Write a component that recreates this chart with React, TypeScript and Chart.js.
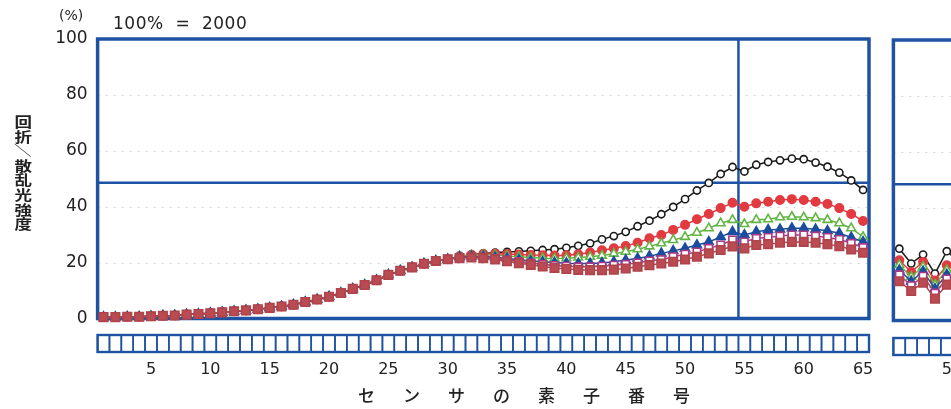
import { useEffect, useRef } from 'react';
import { Chart, registerables } from 'chart.js';

Chart.register(...registerables);

// ---------- data ----------
const ELEMENT_COUNT = 65;
const X_TICKS = [5, 10, 15, 20, 25, 30, 35, 40, 45, 50, 55, 60, 65];
const Y_TICKS = [0, 20, 40, 60, 80, 100];
const REF_LEVEL = 48.6; // horizontal reference line (%)
const REF_ELEMENT = 54.5; // vertical reference line (element boundary)

// elements 1..30 (all series overlap)
const RISE = [0.5, 0.5, 0.6, 0.6, 0.8, 1.0, 1.1, 1.4, 1.6, 1.9, 2.2, 2.6, 2.9, 3.3, 3.8, 4.3, 4.9, 5.9, 6.8, 7.8, 9.1, 10.6, 12.0, 13.7, 15.6, 17.1, 18.3, 19.6, 20.6, 21.2];

// elements 31..65
const BLACK_TAIL = [22.0, 22.8, 23.3, 23.6, 23.8, 24.0, 24.2, 24.5, 24.8, 25.3, 26.0, 26.9, 28.3, 29.5, 31.0, 33.0, 35.0, 37.3, 39.9, 42.7, 45.8, 48.5, 51.7, 54.2, 52.6, 55.0, 56.0, 56.6, 57.2, 57.0, 55.8, 54.3, 52.2, 49.4, 46.0];
const RED_TAIL = [22.3, 22.8, 23.1, 23.2, 23.1, 22.9, 22.7, 22.6, 22.5, 22.6, 23.0, 23.6, 24.4, 25.1, 25.9, 27.1, 28.7, 29.9, 31.7, 33.5, 35.5, 37.4, 39.5, 41.4, 40.0, 41.2, 41.8, 42.4, 42.7, 42.4, 41.8, 41.0, 39.5, 37.4, 34.9];
const GREEN_TAIL = [22.2, 22.6, 22.8, 22.7, 22.4, 22.1, 21.8, 21.6, 21.5, 21.6, 21.8, 22.1, 22.5, 23.2, 23.9, 24.8, 25.8, 26.9, 28.1, 29.2, 30.7, 32.3, 34.1, 35.3, 33.8, 35.3, 35.5, 36.2, 36.4, 36.2, 35.9, 35.3, 34.1, 32.3, 29.2];
const BLUE_TAIL = [22.0, 22.2, 22.2, 21.9, 21.5, 21.0, 20.6, 20.3, 20.0, 19.8, 19.7, 19.7, 19.9, 20.3, 20.9, 21.5, 22.3, 23.3, 24.2, 25.1, 26.3, 27.4, 29.2, 31.0, 29.9, 31.0, 31.7, 31.9, 32.3, 32.3, 31.9, 31.4, 30.5, 29.0, 27.4];
const PURPLE_TAIL = [21.8, 22.0, 21.9, 21.5, 21.0, 20.4, 19.9, 19.4, 19.0, 18.7, 18.5, 18.5, 18.7, 19.1, 19.4, 19.9, 20.6, 21.1, 22.1, 23.0, 23.8, 25.1, 26.3, 28.1, 27.4, 28.7, 29.0, 29.5, 29.9, 29.9, 29.5, 29.0, 28.3, 26.9, 25.4];
const BROWN_TAIL = [21.6, 21.8, 21.6, 21.1, 20.5, 19.8, 19.2, 18.6, 18.1, 17.7, 17.4, 17.3, 17.3, 17.5, 17.9, 18.5, 19.1, 19.7, 20.3, 21.1, 22.1, 23.3, 24.5, 25.8, 25.1, 26.3, 26.6, 27.1, 27.4, 27.4, 27.1, 26.6, 25.9, 24.7, 23.5];

const BLACK = [...RISE, ...BLACK_TAIL];
const RED = [...RISE, ...RED_TAIL];
const GREEN = [...RISE, ...GREEN_TAIL];
const BLUE = [...RISE, ...BLUE_TAIL];
const PURPLE = [...RISE, ...PURPLE_TAIL];
const BROWN = [...RISE, ...BROWN_TAIL];

// second (cropped) panel, elements 1..6
const BLACK_2 = [25.6, 20.3, 23.5, 16.7, 24.7, 21.0];
const RED_2 = [21.5, 17.3, 20.9, 14.3, 19.7, 18.0];
const GREEN_2 = [19.8, 15.6, 19.2, 12.8, 18.0, 16.5];
const BLUE_2 = [18.0, 14.0, 17.5, 11.3, 16.4, 15.0];
const PURPLE_2 = [16.3, 12.4, 15.8, 9.8, 14.8, 13.5];
const BROWN_2 = [14.0, 10.5, 13.5, 7.8, 12.8, 11.5];

const Y_TITLE_CHARS = ['回', '折', '／', '散', '乱', '光', '強', '度'];

// ---------- styles ----------
const FRAME_BLUE = '#1d53a2';
const TEXT = '#222';

type SeriesStyle = { color: string; fill: string; style: string; radius: number; order: number };
const STYLES: SeriesStyle[] = [
  { color: '#1b1b1b', fill: '#ffffff', style: 'circle', radius: 3.6, order: 5 },
  { color: '#e23a41', fill: '#e23a41', style: 'circle', radius: 4.2, order: 4 },
  { color: '#62b443', fill: '#ffffff', style: 'triangle', radius: 5, order: 3 },
  { color: '#1c4c9e', fill: '#1c4c9e', style: 'triangle', radius: 5.2, order: 2 },
  { color: '#a93a86', fill: '#ffffff', style: 'rect', radius: 5.2, order: 1 },
  { color: '#b0444b', fill: '#bb4b52', style: 'rect', radius: 6, order: 0 },
];

const toPoints = (arr: number[]) => arr.map((v, i) => ({ x: i + 1, y: v }));

function makeDatasets(series: number[][]) {
  return series.map((s, i) => {
    const st = STYLES[i];
    return {
      data: toPoints(s),
      borderColor: st.color,
      backgroundColor: st.fill,
      pointBackgroundColor: st.fill,
      pointBorderColor: st.color,
      pointBorderWidth: 1.6,
      pointStyle: st.style,
      pointRadius: st.radius,
      borderWidth: 1.5,
      tension: 0,
      order: st.order,
      clip: false as const,
    };
  });
}

function framePlugin(boxOffset: number, drawVertical: boolean) {
  return {
    id: 'frameDecor',
    beforeDatasetsDraw(chart: any) {
      const { ctx, chartArea, scales } = chart;
      const { left, right, top, bottom } = chartArea;
      const xs = scales.x;
      const ys = scales.y;
      ctx.save();
      // faint dotted grid
      ctx.strokeStyle = 'rgba(160,160,160,0.45)';
      ctx.lineWidth = 1;
      ctx.setLineDash([2, 6]);
      for (const v of [20, 40, 60, 80]) {
        const py = Math.round(ys.getPixelForValue(v)) + 0.5;
        ctx.beginPath();
        ctx.moveTo(left, py);
        ctx.lineTo(right, py);
        ctx.stroke();
      }
      ctx.setLineDash([]);
      // reference lines
      ctx.strokeStyle = FRAME_BLUE;
      ctx.lineWidth = 2.5;
      const hy = ys.getPixelForValue(REF_LEVEL);
      ctx.beginPath();
      ctx.moveTo(left, hy);
      ctx.lineTo(right, hy);
      ctx.stroke();
      if (drawVertical) {
        const vx = xs.getPixelForValue(REF_ELEMENT);
        ctx.beginPath();
        ctx.moveTo(vx, top);
        ctx.lineTo(vx, bottom);
        ctx.stroke();
      }
      // frame
      ctx.lineWidth = 3.5;
      ctx.strokeRect(left, top, right - left, bottom - top);
      // element boxes
      const bt = bottom + boxOffset;
      const bh = 17;
      ctx.lineWidth = 1.6;
      for (let e = 1; e <= ELEMENT_COUNT; e++) {
        const x0 = xs.getPixelForValue(e - 0.5);
        const x1 = xs.getPixelForValue(e + 0.5);
        ctx.strokeRect(x0, bt, x1 - x0, bh);
      }
      ctx.lineWidth = 2.4;
      ctx.strokeRect(xs.getPixelForValue(0.5), bt, xs.getPixelForValue(ELEMENT_COUNT + 0.5) - xs.getPixelForValue(0.5), bh);
      ctx.restore();
    },
  };
}

function makeConfig(series: number[][], opts: { showY: boolean; padLeft: number; padRight: number; top: number; bottom: number; height: number; boxOffset: number; vertical: boolean; yAxisWidth: number; tickPad: number }) {
  return {
    type: 'line' as const,
    data: { datasets: makeDatasets(series) },
    options: {
      animation: false as const,
      responsive: false,
      maintainAspectRatio: false,
      devicePixelRatio: 1,
      layout: { padding: { left: opts.padLeft, right: opts.padRight, top: opts.top, bottom: 0 } },
      plugins: { legend: { display: false }, tooltip: { enabled: false } },
      scales: {
        x: {
          type: 'linear' as const,
          min: 0.5,
          max: ELEMENT_COUNT + 0.5,
          grid: { display: false, drawTicks: false },
          border: { display: false },
          afterBuildTicks: (scale: any) => {
            scale.ticks = X_TICKS.map((v) => ({ value: v }));
          },
          afterFit: (scale: any) => {
            scale.height = opts.height - opts.bottom;
            scale.paddingLeft = 0;
            scale.paddingRight = 0;
          },
          ticks: {
            autoSkip: false,
            maxRotation: 0,
            padding: opts.tickPad,
            color: TEXT,
            font: { family: 'DejaVu Sans', size: 16 },
            callback: (v: any) => String(v),
          },
        },
        y: {
          display: opts.showY,
          min: 0,
          max: 100,
          grid: { display: false, drawTicks: false },
          border: { display: false },
          afterBuildTicks: (scale: any) => {
            scale.ticks = Y_TICKS.map((v) => ({ value: v }));
          },
          afterFit: (scale: any) => {
            scale.width = opts.yAxisWidth;
            scale.paddingTop = 0;
            scale.paddingBottom = 0;
          },
          ticks: {
            padding: 10,
            color: TEXT,
            font: { family: 'DejaVu Sans', size: 17 },
          },
        },
      },
    },
    plugins: [framePlugin(opts.boxOffset, opts.vertical)],
  };
}

export default function App() {
  const mainRef = useRef<HTMLCanvasElement>(null);
  const sideRef = useRef<HTMLCanvasElement>(null);

  useEffect(() => {
    const main = new Chart(
      mainRef.current!,
      makeConfig([BLACK, RED, GREEN, BLUE, PURPLE, BROWN], {
        showY: true,
        padLeft: 0,
        padRight: 11,
        top: 39,
        bottom: 318.5,
        height: 409,
        boxOffset: 16.5,
        vertical: true,
        yAxisWidth: 97.6,
        tickPad: 42,
      }) as any
    );
    const side = new Chart(
      sideRef.current!,
      makeConfig([BLACK_2, RED_2, GREEN_2, BLUE_2, PURPLE_2, BROWN_2], {
        showY: false,
        padLeft: 13.4,
        padRight: 15.2,
        top: 40,
        bottom: 320.5,
        height: 409,
        boxOffset: 17.5,
        vertical: true,
        yAxisWidth: 0,
        tickPad: 40,
      }) as any
    );
    return () => {
      main.destroy();
      side.destroy();
    };
  }, []);

  return (
    <div style={{ position: 'fixed', left: 0, top: 0, width: 951, height: 409, overflow: 'hidden', background: '#fff' }}>
      <canvas ref={mainRef} width={880} height={409} style={{ position: 'absolute', left: 0, top: 0, width: 880, height: 409 }} />
      <canvas ref={sideRef} width={800} height={409} style={{ position: 'absolute', left: 880, top: 0, width: 800, height: 409 }} />
      <div style={{ position: 'absolute', left: 59, top: 7, fontFamily: 'DejaVu Sans', fontSize: 14, color: TEXT, lineHeight: '16px' }}>(%)</div>
      <div style={{ position: 'absolute', left: 113, top: 13, fontFamily: 'DejaVu Sans', fontSize: 17, color: TEXT, lineHeight: '20px', whiteSpace: 'pre', letterSpacing: 0.5 }}>{'100%  =  2000'}</div>
      <div
        style={{
          position: 'absolute',
          left: 12,
          top: 114,
          width: 18,
          display: 'flex',
          flexDirection: 'column',
          alignItems: 'center',
          fontFamily: '"Noto Sans CJK JP"',
          fontWeight: 700,
          fontSize: 14,
          color: TEXT,
          transform: 'scaleX(1.25)',
          transformOrigin: 'left top',
        }}
      >
        {Y_TITLE_CHARS.map((c, i) => (
          <span
            key={i}
            style={{
              display: 'block',
              height: 14.6,
              lineHeight: '14.6px',
              transform: c === '／' ? 'rotate(90deg)' : undefined,
            }}
          >
            {c}
          </span>
        ))}
      </div>
      <div
        style={{
          position: 'absolute',
          left: 358,
          top: 384,
          fontFamily: '"Noto Sans CJK JP"',
          fontWeight: 500,
          fontSize: 17,
          lineHeight: '22px',
          letterSpacing: 28,
          whiteSpace: 'nowrap',
          color: TEXT,
        }}
      >
        センサの素子番号
      </div>
    </div>
  );
}
